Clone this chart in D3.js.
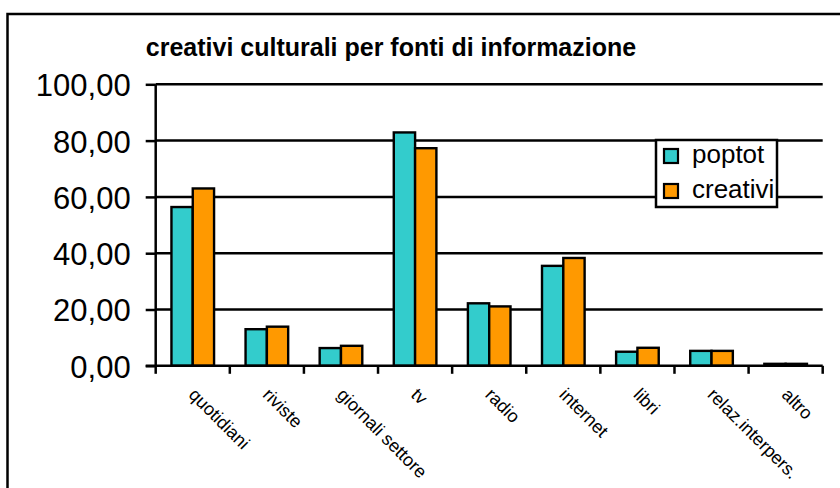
<!DOCTYPE html>
<html>
<head>
<meta charset="utf-8">
<script src="https://cdn.jsdelivr.net/npm/d3@7"></script>
<style>
  html, body { margin: 0; padding: 0; background: #fff; }
  svg { display: block; }
  text { font-family: "Liberation Sans", Arial, sans-serif; fill: #000; }
</style>
</head>
<body>
<svg id="chart" width="840" height="488"></svg>
<script>
const categories = ["quotidiani", "riviste", "giornali settore", "tv", "radio", "internet", "libri", "relaz.interpers.", "altro"];
const seriesNames = ["poptot", "creativi"];
const poptot   = [56.4, 13.0, 6.3, 82.9, 22.2, 35.5, 5.0, 5.3, 0.7];
const creativi = [63.0, 13.9, 7.1, 77.3, 21.1, 38.3, 6.4, 5.3, 0.7];
const yTicks = [0, 20, 40, 60, 80, 100];
const yTickLabels = ["0,00", "20,00", "40,00", "60,00", "80,00", "100,00"];
const title = "creativi culturali per fonti di informazione";
const colors = ["#33CCCC", "#FF9900"];

const values = [poptot, creativi];
const rows = categories.map((c, i) => ({cat: c, vals: seriesNames.map((s, j) => ({key: s, value: values[j][i]}))}));

const svg = d3.select("#chart");
const plot = {left: 155.7, right: 822.7, top: 84.3, bottom: 365.8};

// outer frame
svg.append("rect").attr("x", 7.5).attr("y", 14).attr("width", 900).attr("height", 600)
  .attr("fill", "#fff").attr("stroke", "#000").attr("stroke-width", 2.5);

const y = d3.scaleLinear().domain([0, 100]).range([plot.bottom, plot.top]);
const x0 = d3.scaleBand().domain(categories).range([plot.left, plot.right])
  .paddingInner(0.425).paddingOuter(0.2125);
const x1 = d3.scaleBand().domain(seriesNames).range([0, x0.bandwidth()]);
const color = d3.scaleOrdinal().domain(seriesNames).range(colors);

// gridlines
svg.append("g").selectAll("line").data(yTicks.filter(d => d > 0)).join("line")
  .attr("x1", plot.left).attr("x2", plot.right)
  .attr("y1", d => y(d)).attr("y2", d => y(d))
  .attr("stroke", "#000").attr("stroke-width", 2.5);

// y axis
const yAxis = d3.axisLeft(y).tickValues(yTicks).tickSize(10)
  .tickFormat(d => yTickLabels[yTicks.indexOf(d)]);
const gy = svg.append("g").attr("transform", `translate(${plot.left},0)`).call(yAxis);
gy.select(".domain").attr("stroke", "#000").attr("stroke-width", 2.5).attr("d", `M0,${plot.bottom}V${plot.top}`);
gy.selectAll(".tick line").attr("stroke", "#000").attr("stroke-width", 2.5);
gy.selectAll(".tick text").attr("x", -25).attr("dy", "0.37em")
  .style("font-family", '"Liberation Sans", Arial, sans-serif').style("font-size", "31px").attr("fill", "#000");

// bars
const groups = svg.append("g").selectAll("g").data(rows).join("g")
  .attr("transform", d => `translate(${x0(d.cat)},0)`);
groups.selectAll("rect").data(d => d.vals).join("rect")
  .attr("x", d => x1(d.key)).attr("width", x1.bandwidth())
  .attr("y", d => y(d.value)).attr("height", d => y(0) - y(d.value))
  .attr("fill", d => color(d.key)).attr("stroke", "#000").attr("stroke-width", 2.4);

// x axis line and category boundary ticks
const gap = (x0.step() - x0.bandwidth()) / 2;
const bounds = categories.map(c => x0(c) - gap).concat([plot.right]);
svg.append("line").attr("x1", plot.left - 10).attr("x2", plot.right)
  .attr("y1", y(0)).attr("y2", y(0)).attr("stroke", "#000").attr("stroke-width", 2.5);
svg.append("g").selectAll("line").data(bounds).join("line")
  .attr("x1", d => d).attr("x2", d => d)
  .attr("y1", y(0)).attr("y2", y(0) + 8)
  .attr("stroke", "#000").attr("stroke-width", 2.5);

// x labels rotated
svg.append("g").selectAll("text").data(categories).join("text")
  .attr("transform", d => `translate(${x0(d) + x0.bandwidth() / 2 - 5},${y(0) + 30}) rotate(45)`)
  .attr("text-anchor", "start")
  .style("font-size", "18px")
  .text(d => d);

// title
svg.append("text").attr("x", 391).attr("y", 56).attr("text-anchor", "middle")
  .style("font-size", "25px").style("font-weight", "bold").text(title);

// legend
const lg = svg.append("g").attr("transform", "translate(656,140)");
lg.append("rect").attr("width", 121).attr("height", 67)
  .attr("fill", "#fff").attr("stroke", "#000").attr("stroke-width", 2.5);
const li = lg.selectAll("g").data(seriesNames).join("g")
  .attr("transform", (d, i) => `translate(8,${9 + i * 35})`);
li.append("rect").attr("width", 14).attr("height", 14)
  .attr("fill", d => color(d)).attr("stroke", "#000").attr("stroke-width", 2.2);
li.append("text").attr("x", 28).attr("y", 14).style("font-size", "26px").text(d => d);
</script>
</body>
</html>
